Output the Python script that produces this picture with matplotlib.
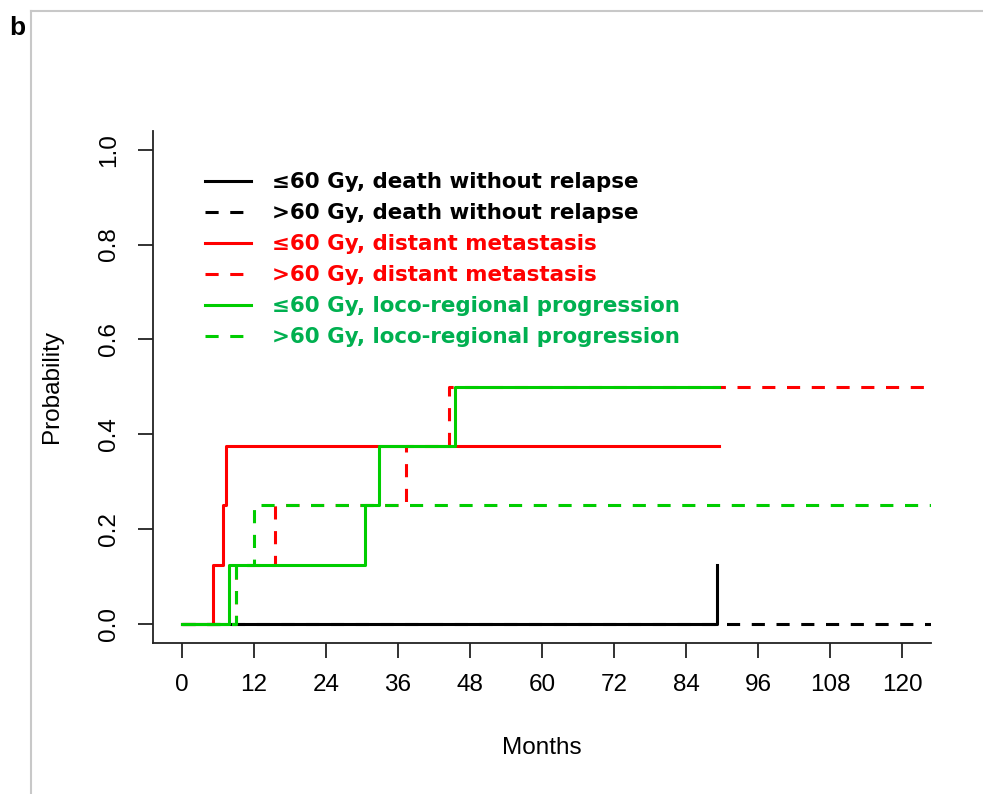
import matplotlib
matplotlib.use("Agg")
import matplotlib.pyplot as plt
from matplotlib.lines import Line2D

# step curves (months, cumulative probability)
t_le60_death = [0, 89.2]
p_le60_death = [0, 0.125]
t_gt60_death = [0, 124.8]
p_gt60_death = [0, 0]
t_le60_dm = [0, 5.2, 6.8, 7.3, 89.5]
p_le60_dm = [0, 0.125, 0.25, 0.375, 0.375]
t_gt60_dm = [0, 9.0, 15.6, 37.3, 44.6, 124.8]
p_gt60_dm = [0, 0.125, 0.25, 0.375, 0.5, 0.5]
t_le60_lrp = [0, 7.8, 30.5, 32.8, 45.6, 89.5]
p_le60_lrp = [0, 0.125, 0.25, 0.375, 0.5, 0.5]
t_gt60_lrp = [0, 9.0, 12.0, 124.8]
p_gt60_lrp = [0, 0.125, 0.25, 0.25]

xticks = list(range(0, 121, 12))
yticks = [0.0, 0.2, 0.4, 0.6, 0.8, 1.0]

labels = ["≤60 Gy, death without relapse",
          ">60 Gy, death without relapse",
          "≤60 Gy, distant metastasis",
          ">60 Gy, distant metastasis",
          "≤60 Gy, loco-regional progression",
          ">60 Gy, loco-regional progression"]

RED = "#FF0000"
GREEN = "#00CD00"
GREEN_TXT = "#00B050"
DASH = (0, (4.3, 3.8))
LW = 2.2

plt.rcParams["font.family"] = ["Liberation Sans", "DejaVu Sans"]

fig = plt.figure(figsize=(9.83, 7.94), dpi=100)
ax = fig.add_axes([152.9 / 983, 1 - 643 / 794, 778 / 983, 512.3 / 794])

ax.step(t_le60_death, p_le60_death, where="post", color="black", lw=LW)
ax.step(t_gt60_death, p_gt60_death, where="post", color="black", lw=LW, ls=DASH)
ax.step(t_le60_dm, p_le60_dm, where="post", color=RED, lw=LW)
ax.step(t_gt60_dm, p_gt60_dm, where="post", color=RED, lw=LW, ls=DASH)
ax.step(t_le60_lrp, p_le60_lrp, where="post", color=GREEN, lw=LW)
ax.step(t_gt60_lrp, p_gt60_lrp, where="post", color=GREEN, lw=LW, ls=DASH)

ax.set_xlim(-4.8, 124.8)
ax.set_ylim(-0.04, 1.04)
ax.set_xticks(xticks)
ax.set_yticks(yticks)
ax.set_xticklabels([str(v) for v in xticks])
ax.set_yticklabels(["%.1f" % v for v in yticks], rotation=90, va="center", ha="center")
ax.spines["top"].set_visible(False)
ax.spines["right"].set_visible(False)
for s in ("left", "bottom"):
    ax.spines[s].set_linewidth(1.3)
    ax.spines[s].set_color("#222222")
ax.tick_params(axis="both", length=10.5, width=1.3, color="#222222", labelsize=17.5)
ax.tick_params(axis="x", pad=12)
ax.tick_params(axis="y", pad=21)

ax.set_xlabel("Months", fontsize=17.5)
ax.set_ylabel("Probability", fontsize=17.5)
ax.xaxis.set_label_coords(0.5, -0.205)
ax.xaxis.label.set_va("center")
ax.yaxis.set_label_coords(-0.130, 0.5)
ax.yaxis.label.set_va("center")

handles = [Line2D([], [], color="black", lw=LW),
           Line2D([], [], color="black", lw=LW, ls=DASH),
           Line2D([], [], color=RED, lw=LW),
           Line2D([], [], color=RED, lw=LW, ls=DASH),
           Line2D([], [], color=GREEN, lw=LW),
           Line2D([], [], color=GREEN, lw=LW, ls=DASH)]
leg = ax.legend(handles, labels, loc="upper left",
                bbox_to_anchor=(205 / 983, 1 - 172.5 / 794),
                bbox_transform=fig.transFigure, frameon=False,
                prop={"family": "DejaVu Sans", "weight": "bold", "size": 15.4},
                labelcolor=["black", "black", RED, RED, GREEN_TXT, GREEN_TXT],
                handlelength=2.15, handletextpad=1.0, labelspacing=0.51,
                borderpad=0, borderaxespad=0)

# panel frame and label
fig.add_artist(Line2D([31 / 983, 1], [1 - 10.7 / 794] * 2, color="#C8C8C8", lw=1.5))
fig.add_artist(Line2D([31 / 983] * 2, [0, 1 - 10.7 / 794], color="#C8C8C8", lw=1.5))
fig.text(9 / 983, 1 - 35 / 794, "b", fontsize=19, fontweight="bold", ha="left", va="baseline")

fig.savefig("out.png", dpi=100)
